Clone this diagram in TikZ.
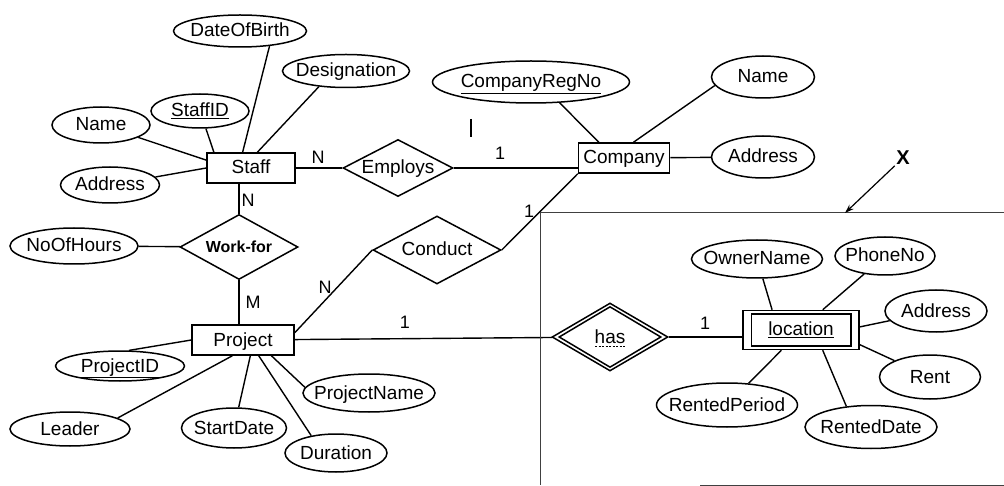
\documentclass[tikz,border=0pt]{standalone}
\usepackage{fontspec}
\setmainfont{Liberation Sans}
\usetikzlibrary{shapes.geometric,arrows.meta}
\begin{document}
\begin{tikzpicture}[x=1pt,y=-1pt,
  base/.style={inner sep=0pt, line width=1.5pt, font=\fontsize{19}{22}\selectfont,
     text height=12pt, text depth=0pt,
     execute at begin node={\hbox to 0pt\bgroup\hss},
     execute at end node={\hss\egroup}},
  attr/.style args={#1/#2}{base, ellipse, draw, minimum width=#1pt, minimum height=#2pt},
  entity/.style args={#1/#2}{base, rectangle, draw, minimum width=#1pt, minimum height=#2pt},
  rel/.style args={#1/#2}{base, diamond, draw, aspect=2, minimum width=#1pt, minimum height=#2pt},
  lbl/.style={inner sep=0pt, font=\fontsize{18}{20}\selectfont},
  conn/.style={line width=1.4pt},
  frame/.style={line width=1pt, black!75}]
\fill[white] (0,0) rectangle (1004,486);
\path[use as bounding box] (0,0) rectangle (1004,486);

% Staff side
\node[attr=133/32] (DOB) at (240,31) {DateOfBirth};
\node[attr=127/33] (Desig) at (346,71) {Designation};
\node[attr=98/34] (SID) at (200,111) {\underline{StaffID}};
\node[attr=98/36] (SName) at (101,125) {Name};
\node[attr=99/36] (SAddr) at (110,185) {Address};
\node[entity=88/30] (Staff) at (251,168) {Staff};
\node[rel=110/57] (Emp) at (398,168) {Employs};
\node[rel=118/65, font=\bfseries\fontsize{16}{18}\selectfont] (WF) at (239,247) {Work-for};
\node[attr=128/36] (NOH) at (74,246) {NoOfHours};

% Project side
\node[entity=102/30] (Proj) at (243,340) {Project};
\node[attr=129/30] (PID) at (120,366) {\underline{ProjectID}};
\node[attr=120/34] (Leader) at (70,429) {Leader};
\node[attr=105/40] (SDate) at (234,428) {StartDate};
\node[attr=102/38] (Dur) at (336,453) {Duration};
\node[attr=132/38] (PName) at (369,393) {ProjectName};
\node[rel=128/68] (Cond) at (437,250) {Conduct};

% Company side
\node[attr=197/42] (CRN) at (531,82) {\underline{CompanyRegNo}};
\node[entity=91/30] (Comp) at (624,158) {Company};
\node[attr=103/42] (CName) at (763,77) {Name};
\node[attr=103/42] (CAddr) at (763,157) {Address};

% Location side
\node[rel=116/68] (Has) at (610,337) {has};
\node[entity=116/39] (Loc) at (801,330) {\underline{location}};
\node[attr=131/38] (Owner) at (757,259) {OwnerName};
\node[attr=100/38] (Phone) at (885,256) {PhoneNo};
\node[attr=102/42] (LAddr) at (936,311) {Address};
\node[attr=101/44] (Rent) at (930,377) {Rent};
\node[attr=132/43] (RDate) at (871,427) {RentedDate};
\node[attr=141/44] (RPer) at (727,405) {RentedPeriod};

% partial key underline of "has"
\draw[line width=0.9pt, dash pattern=on 2pt off 1.5pt] ([xshift=-15pt,yshift=-9pt]Has.center) -- ([xshift=15pt,yshift=-9pt]Has.center);

% inner borders of weak entity / identifying relationship
\draw[line width=1.5pt] ([xshift=9pt,yshift=-4.5pt]Loc.north west) rectangle ([xshift=-9pt,yshift=4.5pt]Loc.south east);
\draw[line width=1.5pt] ([xshift=8pt]Has.west) -- ([yshift=-4.6pt]Has.north) -- ([xshift=-8pt]Has.east) -- ([yshift=4.6pt]Has.south) -- cycle;

% connectors
\draw[conn] (SName) -- (Staff.170);
\draw[conn] (SID) -- (Staff.157);
\draw[conn] (DOB.-27) -- (Staff.118);
\draw[conn] (Desig.-150) -- (Staff.68);
\draw[conn] (SAddr) -- (Staff.west);
\draw[conn] (Staff) -- (Emp);
\draw[conn] (Emp.east) -- (Emp.east -| Comp.west);
\draw[conn] (Staff.south -| WF.north) -- (WF.north);
\draw[conn] (NOH) -- (WF);
\draw[conn] (WF.south) -- (WF.south |- Proj.north);
\draw[conn] (Proj.8) -- (Cond.west);
\draw[conn] (Cond.east) -- (Comp.south west);
\draw[conn] (Proj) -- (Has);
\draw[conn] (Has.east) -- (Has.east -| Loc.west);
\draw[conn] (PID.60) -- (Proj.west);
\draw[conn] (Leader.13) -- (Proj.-124);
\draw[conn] (SDate) -- (Proj.-65);
\draw[conn] (Dur.145) -- (Proj.-45);
\draw[conn] (PName.175) -- (Proj.-29);
\draw[conn] (CRN.-36) -- (Comp.148);
\draw[conn] (CName.190) -- (Comp.59);
\draw[conn] (Comp) -- (CAddr);
\draw[conn] (Owner) -- (Loc.145);
\draw[conn] (Phone) -- (Loc.43);
\draw[conn] (LAddr) -- (Loc.3);
\draw[conn] (Rent) -- (Loc.-14);
\draw[conn] (RDate.140) -- (Loc.-43);
\draw[conn] (RPer) -- (Loc.-134);

% cardinalities
\node[lbl] (n1) at (318,157) {N};
\node[lbl] (n2) at (248,200) {N};
\node[lbl] (m1) at (253,302) {M};
\node[lbl] (o1) at (500,153) {1};
\node[lbl] (o2) at (529,211) {1};
\node[lbl] (n3) at (325,287) {N};
\node[lbl] (o3) at (405,322) {1};
\node[lbl] (o4) at (705,323) {1};

% stray mark
\coordinate (ta) at (471,119);
\coordinate (tb) at (471,137);
\draw[line width=2pt] (ta) -- (tb);

% frame X
\draw[frame] (1004,213) -- (540,213) -- (540,485);
\draw[frame] (700,485) -- (1004,485);
\node[inner sep=0pt, font=\bfseries\fontsize{20}{22}\selectfont] (X) at (903,158) {X};
\coordinate (Xtip) at (845,213);
\draw[line width=1.2pt, shorten <=2pt, -{Stealth[length=9pt,width=6pt]}] (X) -- (Xtip);
\end{tikzpicture}
\end{document}
